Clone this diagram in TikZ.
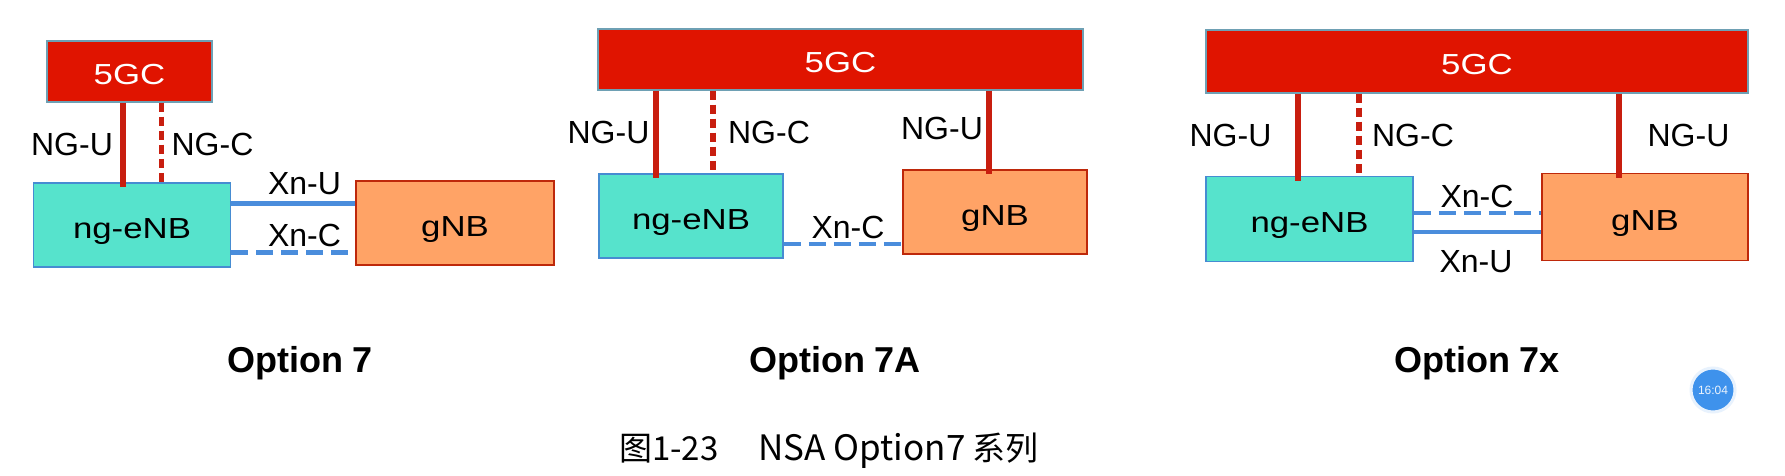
\documentclass[tikz,border=0pt]{standalone}
\usepackage{xcolor}
\usepackage{fontspec}
\setmainfont{Liberation Sans}
\newfontfamily\boxfont[FakeStretch=1.2]{Liberation Sans}
\newfontfamily\cjkfont{Noto Sans CJK SC}
\usepackage{tikz}
\usetikzlibrary{positioning}
\usetikzlibrary{calc}

\definecolor{coreRed}{RGB}{224,20,0}
\definecolor{coreEdge}{RGB}{110,160,180}
\definecolor{enbFill}{RGB}{86,227,204}
\definecolor{enbEdge}{RGB}{70,140,210}
\definecolor{gnbFill}{RGB}{255,163,102}
\definecolor{gnbEdge}{RGB}{190,40,10}
\definecolor{ngRed}{RGB}{200,30,15}
\definecolor{xnBlue}{RGB}{74,141,220}
\definecolor{badgeBlue}{RGB}{62,146,236}

\begin{document}
\begin{tikzpicture}[
		x=1pt,
		y=-1pt,
		font=\fontsize{32pt}{36pt}\selectfont,
	]
		\tikzset{core/.style={
			draw=coreEdge,
			fill=coreRed,
			line width=1.5pt,
			text=white,
			rectangle,
			inner sep=0pt,
			text height=27pt,
			text depth=0pt,
			font=\boxfont\fontsize{29pt}{33pt}\selectfont,
		}}
		\tikzset{enb/.style={
			draw=enbEdge,
			fill=enbFill,
			line width=1.5pt,
			rectangle,
			inner sep=0pt,
			text height=27pt,
			text depth=0pt,
			font=\boxfont\fontsize{29pt}{33pt}\selectfont,
		}}
		\tikzset{gnb/.style={
			draw=gnbEdge,
			fill=gnbFill,
			line width=1.5pt,
			rectangle,
			inner sep=0pt,
			text height=27pt,
			text depth=0pt,
			font=\boxfont\fontsize{29pt}{33pt}\selectfont,
		}}
		\tikzset{ngu/.style={draw=ngRed, line width=5.5pt, shorten >=-5pt}}
		\tikzset{ngc/.style={draw=ngRed, line width=5.5pt, dash pattern=on 9pt off 5pt}}
		\tikzset{xnu/.style={draw=xnBlue, line width=4.5pt}}
		\tikzset{xnc/.style={draw=xnBlue, line width=4.5pt, dash pattern=on 17pt off 8pt}}
		\tikzset{lbl/.style={inner sep=0pt}}
		\tikzset{optname/.style={inner sep=0pt, font=\fontsize{36pt}{40pt}\selectfont\bfseries}}

		\useasboundingbox[fill=white] (0,0) rectangle (1785,476);

		% Option 7
		\node[core, minimum width=165pt, minimum height=61pt] (core1) at (129.5,71.5) {5GC};
		\node[enb, minimum width=197pt, minimum height=84pt] (enb1) at (132,225) {ng-eNB};
		\node[gnb, minimum width=198pt, minimum height=84pt] (gnb1) at (455,223) {gNB};

		\coordinate (ngu1) at (123,0);
		\coordinate (ngc1) at (161.5,0);
		\coordinate (xnu1) at (0,203.5);
		\coordinate (xnc1) at (0,252.5);
		\draw[ngu] (core1.south -| ngu1) -- (enb1.north -| ngu1);
		\draw[ngc] (core1.south -| ngc1) -- (enb1.north -| ngc1);
		\draw[xnu] (enb1.east |- xnu1) -- (gnb1.west |- xnu1);
		\draw[xnc] (enb1.east |- xnc1) -- (gnb1.west |- xnc1);

		\node[lbl] (ngu1lbl) at (72,144) {NG-U};
		\node[lbl] (ngc1lbl) at (212.5,144) {NG-C};
		\node[lbl] (xnu1lbl) at (304.5,183.5) {Xn-U};
		\node[lbl] (xnc1lbl) at (304.5,235) {Xn-C};
		\node[optname] (opt1) at (300,363) {Option 7};

		% Option 7A
		\node[core, minimum width=485pt, minimum height=61pt] (core2) at (840.5,59.5) {5GC};
		\node[enb, minimum width=184pt, minimum height=84pt] (enb2) at (691,216) {ng-eNB};
		\node[gnb, minimum width=184pt, minimum height=84pt] (gnb2) at (995,212) {gNB};

		\coordinate (ngu2) at (656,0);
		\coordinate (ngc2) at (713,0);
		\coordinate (ngu2g) at (989,0);
		\coordinate (xnc2) at (0,244);
		\draw[ngu] (core2.south -| ngu2) -- (enb2.north -| ngu2);
		\draw[ngc] (core2.south -| ngc2) -- (enb2.north -| ngc2);
		\draw[ngu] (core2.south -| ngu2g) -- (gnb2.north -| ngu2g);
		\draw[xnc] (enb2.east |- xnc2) -- (gnb2.west |- xnc2);

		\node[lbl] (ngu2lbl) at (608.5,132.5) {NG-U};
		\node[lbl] (ngc2lbl) at (769,132.5) {NG-C};
		\node[lbl] (ngu2glbl) at (942,128) {NG-U};
		\node[lbl] (xnc2lbl) at (848,227) {Xn-C};
		\node[optname] (opt2) at (835,363) {Option 7A};

		% Option 7x
		\node[core, minimum width=542pt, minimum height=63pt] (core3) at (1477,61.5) {5GC};
		\node[enb, minimum width=207pt, minimum height=85pt] (enb3) at (1309.5,219) {ng-eNB};
		\node[gnb, minimum width=206pt, minimum height=87pt] (gnb3) at (1645,217) {gNB};

		\coordinate (ngu3) at (1298,0);
		\coordinate (ngc3) at (1359,0);
		\coordinate (ngu3g) at (1619,0);
		\coordinate (xnc3) at (0,213);
		\coordinate (xnu3) at (0,232);
		\draw[ngu] (core3.south -| ngu3) -- (enb3.north -| ngu3);
		\draw[ngc] (core3.south -| ngc3) -- (enb3.north -| ngc3);
		\draw[ngu] (core3.south -| ngu3g) -- (gnb3.north -| ngu3g);
		\draw[xnc] (enb3.east |- xnc3) -- (gnb3.west |- xnc3);
		\draw[xnu] (enb3.east |- xnu3) -- (gnb3.west |- xnu3);

		\node[lbl] (ngu3lbl) at (1230.5,135) {NG-U};
		\node[lbl] (ngc3lbl) at (1413,135) {NG-C};
		\node[lbl] (ngu3glbl) at (1688.5,135) {NG-U};
		\node[lbl] (xnc3lbl) at (1477,196) {Xn-C};
		\node[lbl] (xnu3lbl) at (1476,262) {Xn-U};
		\node[optname] (opt3) at (1477,363) {Option 7x};

		% caption and timestamp
		\node[inner sep=0pt, font=\cjkfont\fontsize{33pt}{36pt}\selectfont] (caption) at (829,451) {图1-23\hspace{40pt}{\fontsize{35pt}{36pt}\selectfont NSA Option7} 系列};
		\node[
			circle,
			fill=badgeBlue,
			draw=badgeBlue!12,
			line width=3pt,
			minimum size=44pt,
			inner sep=0pt,
			text=white!90!badgeBlue,
			font=\fontsize{12pt}{12pt}\selectfont,
		] (clock) at (1713,390) {16:04};
	\end{tikzpicture}
\end{document}
